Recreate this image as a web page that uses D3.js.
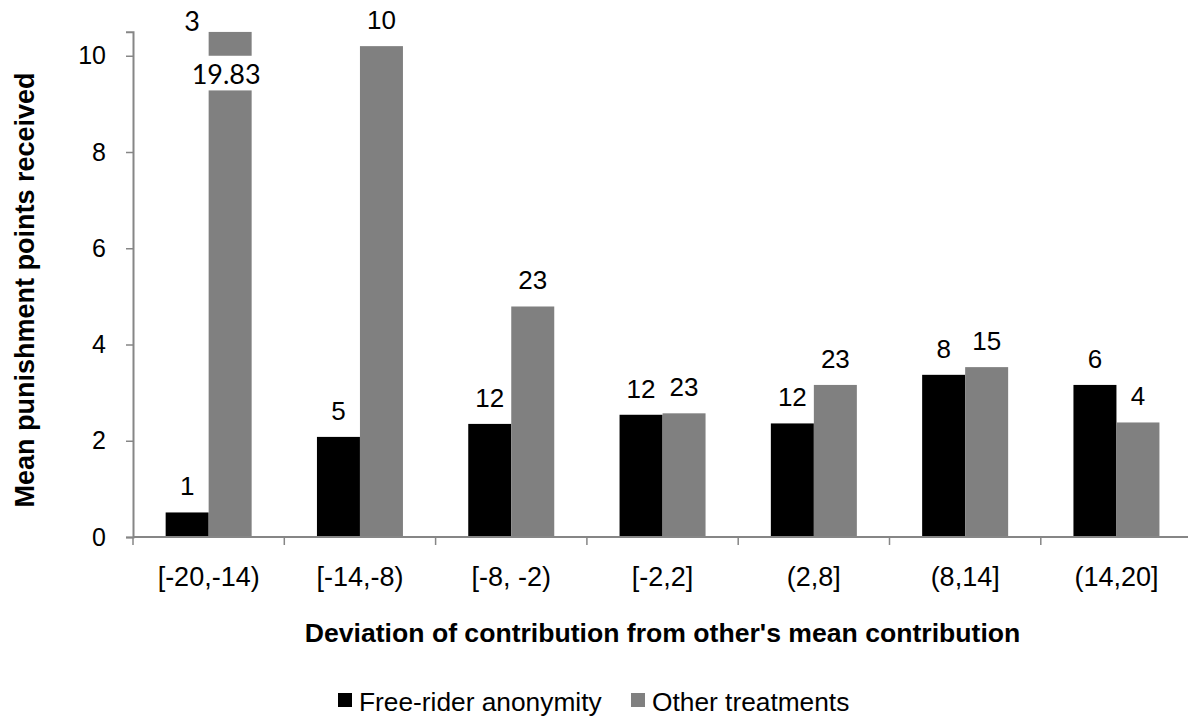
<!DOCTYPE html>
<html>
<head>
<meta charset="utf-8">
<script src="https://cdn.jsdelivr.net/npm/d3@7"></script>
<style>
  html, body { margin: 0; padding: 0; background: #fff; }
  svg { display: block; }
  text { font-family: "Liberation Sans", Arial, sans-serif; fill: #000; }
</style>
</head>
<body>
<svg id="chart" width="1188" height="719"></svg>
<script>
// ---- data ----
const categories = ["[-20,-14)", "[-14,-8)", "[-8, -2)", "[-2,2]", "(2,8]", "(8,14]", "(14,20]"];
const seriesNames = ["Free-rider anonymity", "Other treatments"];
const freeRider = [0.51, 2.08, 2.35, 2.54, 2.36, 3.37, 3.16];
const otherTreat = [19.83, 10.2, 4.79, 2.57, 3.16, 3.53, 2.38];
const freeRiderN = ["1", "5", "12", "12", "12", "8", "6"];
const otherTreatN = ["3", "10", "23", "23", "23", "15", "4"];
const yTicks = [0, 2, 4, 6, 8, 10];
const yMax = 10.5;
const breakRange = [9.28, 10];      // white gap drawn across the broken bar
const brokenLabel = "19.83";
const colors = ["#000000", "#808080"];

// ---- layout ----
const svg = d3.select("#chart");
const margin = {left: 133, top: 31.7, bottom: 537};
const plotRight = 133 + 7 * 151.3;

const x0 = d3.scaleBand().domain(categories).range([margin.left, plotRight]).paddingInner(0).paddingOuter(0);
const bw = 43;
const x1 = d3.scaleBand().domain([0, 1]).range([x0.bandwidth() / 2 - bw, x0.bandwidth() / 2 + bw]);
const y = d3.scaleLinear().domain([0, yMax]).range([margin.bottom, margin.top]);

const axisColor = "#868686";

// bars
const series = [freeRider, otherTreat];
const labels = [freeRiderN, otherTreatN];
const clipId = "plotclip";
svg.append("clipPath").attr("id", clipId).append("rect")
  .attr("x", margin.left).attr("y", margin.top)
  .attr("width", plotRight - margin.left).attr("height", margin.bottom - margin.top);

const gBars = svg.append("g").attr("clip-path", `url(#${clipId})`);
series.forEach((vals, s) => {
  gBars.selectAll(null).data(vals).enter().append("rect")
    .attr("x", (d, i) => x0(categories[i]) + x1(s))
    .attr("width", x1.bandwidth())
    .attr("y", d => y(Math.min(d, yMax)))
    .attr("height", d => y(0) - y(Math.min(d, yMax)))
    .attr("fill", colors[s]);
});

// break on the first gray bar
svg.append("rect")
  .attr("x", x0(categories[0]) + x1(1) - 1)
  .attr("width", x1.bandwidth() + 2)
  .attr("y", y(breakRange[1]))
  .attr("height", y(breakRange[0]) - y(breakRange[1]))
  .attr("fill", "#fff");
svg.append("text")
  .attr("x", x0(categories[0]) + x1(1) + x1.bandwidth() / 2 - 4)
  .attr("y", y(breakRange[0]) - 6)
  .attr("text-anchor", "middle")
  .style("font-family", "Lato, 'Open Sans', sans-serif")
  .style("font-size", "27px")
  .text(brokenLabel);

// axes
const yAxis = d3.axisLeft(y).tickValues(yTicks).tickSize(7).tickPadding(20).tickFormat(d3.format("d"));
const gy = svg.append("g").attr("transform", `translate(${margin.left},0)`).call(yAxis);
gy.select(".domain").attr("stroke", axisColor).attr("stroke-width", 2);
gy.selectAll(".tick line").attr("stroke", axisColor).attr("stroke-width", 1.5);
gy.selectAll(".tick text").style("font-size", "25px").attr("font-family", null);

const gx = svg.append("g").attr("transform", `translate(0,${margin.bottom})`);
gx.append("line").attr("x1", margin.left).attr("x2", plotRight).attr("y1", 0).attr("y2", 0)
  .attr("stroke", axisColor).attr("stroke-width", 2);
const boundaries = categories.map(c => x0(c)).concat([plotRight]);
gx.selectAll(null).data(boundaries).enter().append("line")
  .attr("x1", d => d).attr("x2", d => d).attr("y1", 0).attr("y2", 8)
  .attr("stroke", axisColor).attr("stroke-width", 1.5);
gx.selectAll(null).data(categories).enter().append("text")
  .attr("x", d => x0(d) + x0.bandwidth() / 2)
  .attr("y", 49)
  .attr("text-anchor", "middle")
  .style("font-size", "27px")
  .text(d => d);

// value labels
series.forEach((vals, s) => {
  svg.selectAll(null).data(vals).enter().append("text")
    .attr("x", (d, i) => x0(categories[i]) + x1(s) + x1.bandwidth() / 2 - (d > yMax ? 38 : 0))
    .attr("y", d => (d > yMax ? margin.top : y(d)) - (d > yMax ? 1 : 17))
    .attr("text-anchor", "middle")
    .style("font-size", (d) => d > yMax ? "27px" : "26px")
    .style("font-family", d => d > yMax ? "Lato, 'Open Sans', sans-serif" : null)
    .text((d, i) => labels[s][i]);
});

// axis titles
svg.append("text")
  .attr("transform", "translate(34,290) rotate(-90)")
  .attr("text-anchor", "middle")
  .style("font-size", "27px").style("font-weight", "bold")
  .text("Mean punishment points received");
svg.append("text")
  .attr("x", (margin.left + plotRight) / 2)
  .attr("y", 642)
  .attr("text-anchor", "middle")
  .style("font-size", "26.6px").style("font-weight", "bold")
  .text("Deviation of contribution from other's mean contribution");

// legend
const legendX = [338, 631];
const lg = svg.append("g");
seriesNames.forEach((n, i) => {
  lg.append("rect").attr("x", legendX[i]).attr("y", 693).attr("width", 14).attr("height", 14).attr("fill", colors[i]);
  lg.append("text").attr("x", legendX[i] + 21).attr("y", 711).style("font-size", "26.3px").text(n);
});
</script>
</body>
</html>
